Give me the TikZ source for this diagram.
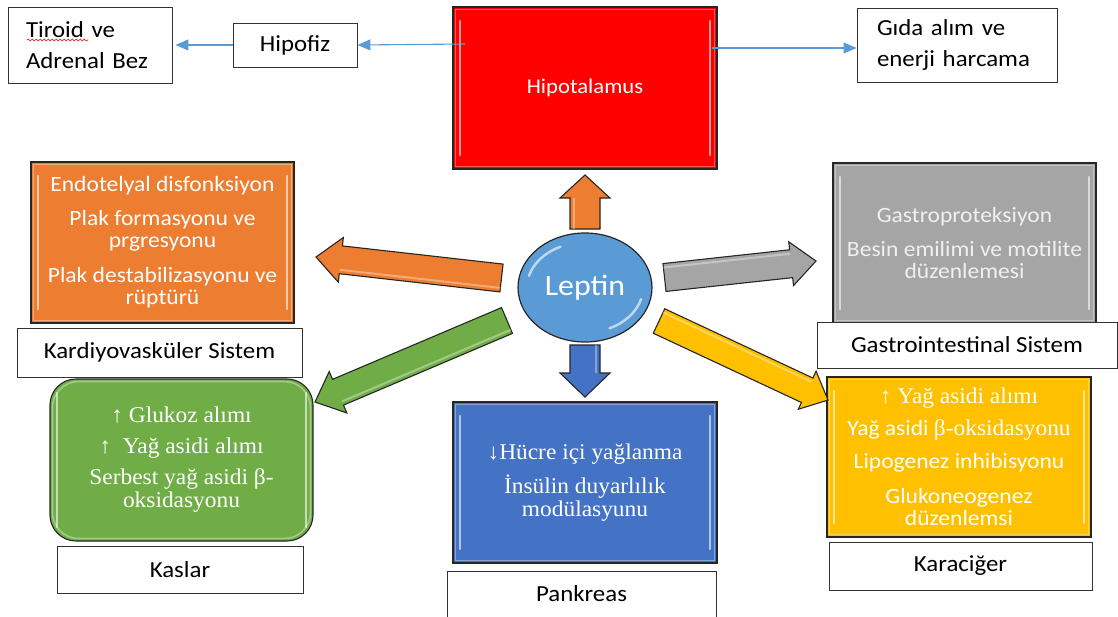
\documentclass[tikz,border=0pt]{standalone}
\usepackage{fontspec}
\setmainfont{Carlito}[FakeStretch=1.08]
\newfontfamily\tnr{Liberation Serif}[FakeStretch=1.04]
\usetikzlibrary{arrows.meta,calc,shapes.geometric,decorations.pathmorphing}
\definecolor{cRed}{HTML}{FF0000}
\definecolor{cOrange}{HTML}{ED7D31}
\definecolor{cGray}{HTML}{A5A5A5}
\definecolor{cGreen}{HTML}{70AD47}
\definecolor{cBlue}{HTML}{4472C4}
\definecolor{cYellow}{HTML}{FFC000}
\definecolor{cLep}{HTML}{5B9BD5}
\definecolor{cLine}{HTML}{5B9BD5}
\newcommand\lblF{\fontsize{23}{31}\selectfont}
\newcommand\inF{\fontsize{21.8}{22}\selectfont}
\newcommand\serF{\tnr\fontsize{22.5}{23}\selectfont}
\newcommand\blockarr[6]{%
  \coordinate (hb#2) at ($(#3)!#6!(#2)$);
  \draw[barr,fill=#1] ($(#2)!#4!90:(#3)$) -- ($(hb#2)!#4!90:(#3)$) -- ($(hb#2)!#5!90:(#3)$) -- (#3)
     -- ($(hb#2)!#5!-90:(#3)$) -- ($(hb#2)!#4!-90:(#3)$) -- ($(#2)!#4!-90:(#3)$) -- cycle;
  \draw[white,opacity=.35,line width=2pt] ($(#2)!#4-4pt!90:(#3)$) -- ($(hb#2)!#4-4pt!90:(#3)$);}
\tikzset{
  lbl/.style={draw=black!80, line width=0.9pt, fill=white, inner sep=0pt, font=\lblF},
  bevel/.style={path picture={
    \draw[white,opacity=.35,line width=1.6pt]
      ([shift={(2.5pt,-2.5pt)}]path picture bounding box.north west) rectangle
      ([shift={(-2.5pt,2.5pt)}]path picture bounding box.south east);
    \draw[white,opacity=.6,line width=2.5pt,line cap=round]
      ([shift={(7pt,-14pt)}]path picture bounding box.north west) --
      ([shift={(7pt,14pt)}]path picture bounding box.south west);
    \draw[white,opacity=.6,line width=2.5pt,line cap=round]
      ([shift={(-7pt,-14pt)}]path picture bounding box.north east) --
      ([shift={(-7pt,14pt)}]path picture bounding box.south east);}},
  box/.style={draw=black!85, line width=1.1pt, inner sep=0pt, align=center, text=white, bevel},
  conn/.style={draw=cLine, line width=1.1pt, -{Triangle[length=13pt,width=11pt]}},
  barr/.style={draw=black!85, line width=1.1pt, line join=miter},
}
\begin{document}
\begin{tikzpicture}[x=1pt,y=-1pt]
\useasboundingbox (0,0) rectangle (1118,616);

% top row
\node[lbl, minimum height=76pt, text width=128pt, inner xsep=18pt, align=left] (tiroid) at (90,45) {Tiroid ve\\Adrenal Bez};
\draw[red, line width=0.6pt, decorate, decoration={snake, amplitude=1pt, segment length=4pt}] (27,40) -- (88,40);
\node[lbl, minimum width=124pt, minimum height=44pt] (hipofiz) at (295,45) {Hipofiz};
\node[lbl, minimum height=74pt, text width=160pt, inner xsep=20pt, align=left] (gida) at (957,45) {G\i da al\i m ve\\enerji harcama};
\node[box, fill=cRed, minimum width=264pt, minimum height=162pt, font=\fontsize{21}{22}\selectfont] (hypo) at (585,88) {Hipotalamus};

\coordinate (hypoL) at (465,44);
\coordinate (hypoR) at (712,48);
\draw[conn] (hypoL) -- (hipofiz.east);
\draw[conn] (hipofiz.west) -- ([xshift=3pt]tiroid.east);
\draw[conn] (hypoR) -- (hypoR -| gida.west);

% left column
\node[box, fill=cOrange, minimum width=263pt, minimum height=161pt, font=\inF] (cardio) at (162.5,242.5)
  {Endotelyal disfonksiyon\\[12pt]Plak formasyonu ve\\prgresyonu\\[13pt]Plak destabilizasyonu ve\\rüptürü};
\node[lbl, minimum width=285pt, minimum height=49pt] (cardioL) at (159.5,352.5) {Kardiyovasküler Sistem};
\node[box, fill=cGreen, rounded corners=26pt, minimum width=263pt, minimum height=162pt, font=\serF] (kas) at (181.5,460)
  {↑ Glukoz al\i m\i\\[8pt]↑\ \ Yağ asidi al\i m\i\\[8pt]Serbest yağ asidi β-\\oksidasyonu};
\node[lbl, minimum width=246pt, minimum height=47pt] (kasL) at (180,569.5) {Kaslar};

% center bottom
\node[box, fill=cBlue, minimum width=264pt, minimum height=161pt, font=\serF] (pank) at (585,482.5)
  {↓Hücre içi yağlanma\\[9pt]İnsülin duyarl\i l\i k\\modülasyunu};
\node[lbl, minimum width=269pt, minimum height=46pt] (pankL) at (581.5,594) {Pankreas};

% right column
\node[box, fill=cGray, minimum width=263pt, minimum height=160pt, font=\inF, text=white!94!black] (gis) at (964.5,243)
  {Gastroproteksiyon\\[12pt]Besin emilimi ve motilite\\düzenlemesi};
\node[lbl, minimum width=300pt, minimum height=46pt] (gisL) at (967,345) {Gastrointestinal Sistem};
\node[box, fill=cYellow, minimum width=264pt, minimum height=160pt, font=\inF] (liver) at (959,457)
  {{\serF ↑ Yağ asidi al\i m\i}\\[10pt]Yağ asidi {\serF β-oksidasyonu}\\[11pt]Lipogenez inhibisyonu\\[13pt]Glukoneogenez\\düzenlemsi};
\node[lbl, minimum width=263pt, minimum height=48pt] (liverL) at (960.5,566) {Karaciğer};

% Leptin
\node[ellipse, draw=black!85, line width=1.2pt, fill=cLep, minimum width=134pt, minimum height=109pt, inner sep=0pt,
      text=white, font=\fontsize{29.5}{30}\selectfont] (leptin) at (585,287.5) {Leptin};
\draw[white,opacity=.6,line width=2.5pt,line cap=round] ([shift={(115:58pt and 45pt)}]leptin.center)
   arc[start angle=115,end angle=165,x radius=58pt,y radius=45pt];
\draw[white,opacity=.6,line width=2.5pt,line cap=round] ([shift={(-15:58pt and 45pt)}]leptin.center)
   arc[start angle=-15,end angle=-65,x radius=58pt,y radius=45pt];

% block arrows
\coordinate (upT) at (585,229);   \coordinate (upP) at (585,175);
\coordinate (dnT) at (585,345);   \coordinate (dnP) at (585,397);
\coordinate (orT) at (501.5,278); \coordinate (orP) at (316,257);
\coordinate (grT) at (664.5,277.5); \coordinate (grP) at (816,261);
\coordinate (gnT) at (507,320.5); \coordinate (gnP) at (315,402);
\coordinate (yeT) at (659,321);   \coordinate (yeP) at (828,400);
\blockarr{cOrange}{upT}{upP}{15pt}{25pt}{23pt}
\blockarr{cBlue}{dnT}{dnP}{15pt}{25pt}{24pt}
\blockarr{cOrange}{orT}{orP}{14pt}{22.5pt}{25pt}
\blockarr{cGray}{grT}{grP}{14pt}{22pt}{25pt}
\blockarr{cGreen}{gnT}{gnP}{14pt}{22.5pt}{25pt}
\blockarr{cYellow}{yeT}{yeP}{13.5pt}{21pt}{23pt}
\end{tikzpicture}
\end{document}
